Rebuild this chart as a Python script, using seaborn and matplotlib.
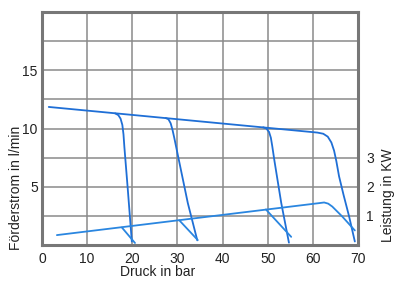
import numpy as np
import pandas as pd
import seaborn as sns
import matplotlib
matplotlib.use("Agg")
from matplotlib import pyplot as plt

# flow curves (Förderstrom, l/min)
main_bar = [1.5, 61.0, 62.3, 63.3, 64.1, 64.7, 65.2, 65.8, 66.8, 68.0, 69.3]
main_flow = [11.85, 9.65, 9.55, 9.3, 8.8, 8.1, 7.2, 5.9, 4.3, 2.5, 0.3]

b20_bar = [16.2, 16.9, 17.4, 17.8, 18.05, 18.25, 19.0, 19.9]
b20_flow = [11.3, 11.15, 10.85, 10.3, 9.5, 8.4, 4.8, 0.3]

b30_bar = [27.4, 28.0, 28.5, 28.9, 29.3, 30.1, 32.3, 34.4]
b30_flow = [10.9, 10.8, 10.45, 9.9, 9.2, 7.7, 3.6, 0.4]

b50_bar = [49.0, 49.7, 50.3, 50.7, 51.0, 51.5, 53.0, 54.7]
b50_flow = [10.1, 10.0, 9.7, 9.2, 8.5, 7.2, 3.6, 0.2]

# power curves (Leistung, KW)
pmain_bar = [3.3, 61.5, 62.5, 63.4, 64.3, 66.5, 69.3]
pmain_kw = [0.34, 1.44, 1.46, 1.42, 1.32, 0.98, 0.50]

p20_bar = [17.7, 20.6]
p20_kw = [0.60, 0.07]

p30_bar = [30.4, 34.5]
p30_kw = [0.85, 0.17]

p50_bar = [49.6, 55.2]
p50_kw = [1.22, 0.28]

x_ticks = [0, 10, 20, 30, 40, 50, 60, 70]
y_grid = [0, 2.5, 5, 7.5, 10, 12.5, 15, 17.5, 20]
y_labels = ["", "", "5", "", "10", "", "15", "", ""]
kw_ticks = [1, 2, 3]

sns.set_theme(style="white")
plt.rcParams["font.family"] = ["Liberation Sans", "DejaVu Sans"]

line_col = "#1f6fd6"
grid_col = "#8a8a8a"
text_col = "#222222"

fig = plt.figure(figsize=(3.96, 2.81), dpi=100)
ax = fig.add_axes([42 / 396, 36 / 281, 316 / 396, 233 / 281])

flows = [(main_bar, main_flow), (b20_bar, b20_flow), (b30_bar, b30_flow), (b50_bar, b50_flow)]
for xs, ys in flows:
    df = pd.DataFrame({"bar": xs, "flow": ys})
    sns.lineplot(data=df, x="bar", y="flow", sort=False, estimator=None,
                 color=line_col, linewidth=1.3, ax=ax)

ax.set_xlim(0, 70)
ax.set_ylim(0, 20)
ax.set_xticks(x_ticks)
ax.set_yticks(y_grid)
ax.set_yticklabels(y_labels)
ax.grid(True, color=grid_col, linewidth=1.1)
ax.set_axisbelow(True)
ax.tick_params(length=0, labelsize=10, labelcolor=text_col)
ax.tick_params(axis="x", pad=5)
ax.tick_params(axis="y", pad=3)
ax.set_xlabel("")
ax.set_ylabel("")
for s in ax.spines.values():
    s.set_color("#777777")
    s.set_linewidth(2.2)

ax2 = ax.twinx()
powers = [(pmain_bar, pmain_kw), (p20_bar, p20_kw), (p30_bar, p30_kw), (p50_bar, p50_kw)]
for xs, ys in powers:
    df = pd.DataFrame({"bar": xs, "kw": ys})
    sns.lineplot(data=df, x="bar", y="kw", sort=False, estimator=None,
                 color="#2a86e0", linewidth=1.3, ax=ax2)
ax2.set_ylim(0, 8)
ax2.set_yticks(kw_ticks)
ax2.tick_params(length=0, labelsize=10, labelcolor=text_col, pad=6)
ax2.set_ylabel("")
for s in ax2.spines.values():
    s.set_visible(False)

fig.text(16 / 396, 1 - 188 / 281, "Förderstrom in l/min", rotation=90,
         ha="center", va="center", fontsize=10, color=text_col)
fig.text(388 / 396, 1 - 195 / 281, "Leistung in KW", rotation=90,
         ha="center", va="center", fontsize=10, color=text_col)
fig.text(158 / 396, 1 - 272 / 281, "Druck in bar",
         ha="center", va="center", fontsize=10, color=text_col)

fig.savefig("out.png", dpi=100)
